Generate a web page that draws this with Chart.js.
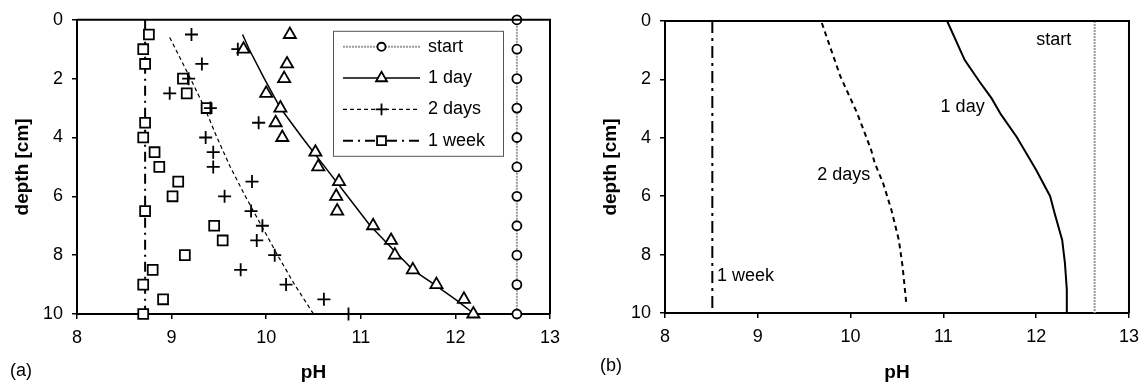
<!DOCTYPE html>
<html>
<head>
<meta charset="utf-8">
<script src="https://cdn.jsdelivr.net/npm/chart.js@4.4.1/dist/chart.umd.min.js"></script>
<style>
  body { margin: 0; background: #fff; }
  .wrap { position: relative; width: 1147px; height: 384px; font-family: 'Liberation Sans', Arial, sans-serif; }
  #chartA { position: absolute; left: 0; top: 0; }
  #chartB { position: absolute; left: 588px; top: 0; }
  .tag { position: absolute; font-size: 18px; color: #000; }
</style>
</head>
<body>
<div class="wrap">
  <canvas id="chartA" width="570" height="384"></canvas>
  <canvas id="chartB" width="559" height="384"></canvas>
  <div class="tag" style="left:10px; top:360px">(a)</div>
  <div class="tag" style="left:600px; top:355px">(b)</div>
</div>
<script>
// (a) measured pH profiles, depth in cm
const sampleDepths = [0.5, 1, 1.5, 2, 2.5, 3, 3.5, 4, 4.5, 5, 5.5, 6, 6.5, 7, 7.5, 8, 8.5, 9, 9.5, 10];
const startDepths = [0, 1, 2, 3, 4, 5, 6, 7, 8, 9, 10];
const startPh = [12.65, 12.65, 12.65, 12.65, 12.65, 12.65, 12.65, 12.65, 12.65, 12.65, 12.65];
const dayPh = [10.25, 9.76, 10.22, 10.19, 10.0, 10.15, 10.1, 10.17, 10.52, 10.55, 10.77, 10.74, 10.75, 11.13, 11.32, 11.36, 11.55, 11.8, 12.09, 12.19];
const twoDaysPh = [9.21, 9.70, 9.32, 9.18, 8.98, 9.41, 9.92, 9.36, 9.44, 9.44, 9.85, 9.56, 9.84, 9.96, 9.90, 10.09, 9.73, 10.21, 10.61, 10.87];
const weekPh = [8.76, 8.70, 8.72, 9.12, 9.16, 9.37, 8.72, 8.70, 8.82, 8.87, 9.07, 9.01, 8.72, 9.45, 9.54, 9.14, 8.80, 8.70, 8.91, 8.70];

// (a) fitted curves
const dayFitDepth = [0.5, 1, 2, 3, 4, 4.5, 5, 6, 7, 7.5, 8, 8.5, 9, 9.5, 10];
const dayFitPh = [9.75, 9.82, 9.98, 10.15, 10.38, 10.5, 10.62, 10.86, 11.1, 11.25, 11.4, 11.55, 11.78, 12.0, 12.2];
const twoDaysFitDepth = [0.6, 2, 3, 4, 5, 6, 7, 8, 9, 10];
const twoDaysFitPh = [8.98, 9.2, 9.35, 9.48, 9.62, 9.78, 9.95, 10.12, 10.3, 10.5];
const weekFitDepth = [0, 10];
const weekFitPh = [8.72, 8.72];

// (b) model profiles
const modelStartDepth = [0, 10];
const modelStartPh = [12.63, 12.63];
const modelDayDepth = [0, 1.34, 2.08, 2.65, 3.2, 3.97, 5.1, 6.0, 6.6, 7.5, 8.3, 9.2, 10];
const modelDayPh = [11.04, 11.23, 11.39, 11.52, 11.62, 11.79, 12.0, 12.15, 12.2, 12.28, 12.31, 12.33, 12.33];
const modelTwoDaysDepth = [0.07, 1.9, 3.15, 4.4, 4.86, 5.55, 6.47, 7.5, 8.4, 9.66];
const modelTwoDaysPh = [9.69, 9.89, 10.07, 10.22, 10.26, 10.35, 10.44, 10.52, 10.56, 10.6];
const modelWeekDepth = [0, 9.9];
const modelWeekPh = [8.51, 8.51];

// (b) curve labels
const curveLabels = ['start', '1 day', '2 days', '1 week'];
const curveLabelPh = [12.0, 10.97, 9.64, 8.56];
const curveLabelDepth = [0.65, 2.95, 5.27, 8.73];

const pts = (xs, ys) => xs.map((x, i) => ({ x: x, y: ys[i] }));

Chart.defaults.font.family = "'Liberation Sans', Arial, Helvetica, sans-serif";
Chart.defaults.font.size = 18;
Chart.defaults.color = '#000';

// top and right edges of the plot box
const frame = {
  id: 'frame',
  afterDraw(chart) {
    const { ctx, chartArea: a } = chart;
    ctx.save();
    ctx.strokeStyle = '#000';
    ctx.lineWidth = 2;
    ctx.beginPath();
    ctx.moveTo(a.left, a.top);
    ctx.lineTo(a.right, a.top);
    ctx.lineTo(a.right, a.bottom);
    ctx.stroke();
    ctx.restore();
  }
};

const boxLegend = {
  id: 'boxLegend',
  afterDatasetsDraw(chart, args, opts) {
    if (!opts.items) return;
    const ctx = chart.ctx, area = chart.chartArea;
    const x0 = area.left + opts.left, y0 = area.top + opts.top;
    ctx.save();
    ctx.fillStyle = '#fff';
    ctx.fillRect(x0, y0, opts.width, opts.height);
    ctx.strokeStyle = '#555';
    ctx.lineWidth = 1;
    ctx.strokeRect(x0 + 0.5, y0 + 0.5, opts.width, opts.height);
    opts.items.forEach((it, i) => {
      const y = y0 + opts.firstRow + i * opts.rowGap;
      const lineDs = chart.data.datasets[it.line];
      const markDs = chart.data.datasets[it.marker];
      ctx.save();
      ctx.strokeStyle = lineDs.borderColor;
      ctx.lineWidth = lineDs.borderWidth;
      ctx.setLineDash(lineDs.borderDash || []);
      ctx.beginPath();
      ctx.moveTo(x0 + 10, y);
      ctx.lineTo(x0 + 10 + opts.sample, y);
      ctx.stroke();
      ctx.restore();
      ctx.save();
      ctx.strokeStyle = markDs.pointBorderColor;
      ctx.fillStyle = markDs.pointBackgroundColor;
      ctx.lineWidth = markDs.pointBorderWidth;
      Chart.helpers.drawPoint(ctx, {
        pointStyle: markDs.pointStyle,
        radius: markDs.pointRadius * 0.9,
        borderWidth: markDs.pointBorderWidth,
        rotation: 0
      }, x0 + 10 + opts.sample / 2, y);
      ctx.restore();
      ctx.fillStyle = '#000';
      ctx.font = "18px 'Liberation Sans', Arial, sans-serif";
      ctx.textBaseline = 'middle';
      ctx.fillText(markDs.label, x0 + opts.textX, y);
    });
    ctx.restore();
  }
};

const curveText = {
  id: 'curveText',
  afterDatasetsDraw(chart, args, opts) {
    if (!opts.labels) return;
    const { ctx, scales } = chart;
    ctx.save();
    ctx.fillStyle = '#000';
    ctx.font = "18px 'Liberation Sans', Arial, sans-serif";
    ctx.textBaseline = 'middle';
    ctx.textAlign = 'left';
    opts.labels.forEach((t, i) => {
      ctx.fillText(t, scales.x.getPixelForValue(opts.ph[i]), scales.y.getPixelForValue(opts.depth[i]));
    });
    ctx.restore();
  }
};

function axes(xHeight) {
  return {
    x: {
      type: 'linear', min: 8, max: 13,
      ticks: { stepSize: 1, padding: 8, color: '#000', font: { size: 18 } },
      grid: { drawOnChartArea: false, tickLength: 5, color: '#000', lineWidth: 1.5 },
      border: { color: '#000', width: 2 },
      title: { display: true, text: 'pH', color: '#000', font: { size: 19, weight: 'bold' }, padding: 0 },
      afterFit: s => { s.height = xHeight; }
    },
    y: {
      type: 'linear', min: 0, max: 10, reverse: true,
      ticks: { stepSize: 2, padding: 9, color: '#000', font: { size: 18 } },
      grid: { drawOnChartArea: false, tickLength: 5, color: '#000', lineWidth: 1.5 },
      border: { color: '#000', width: 2 },
      title: { display: true, text: 'depth [cm]', color: '#000', font: { size: 19, weight: 'bold' }, padding: { top: 11, bottom: 0 } },
      afterFit: s => { s.width = 77; }
    }
  };
}

function markers(label, xs, ys, style, r) {
  return {
    label: label, data: pts(xs, ys), showLine: false, clip: false,
    pointStyle: style, pointRadius: r, pointBorderWidth: 1.8,
    pointBorderColor: '#000', pointBackgroundColor: '#fff',
    borderColor: '#000', backgroundColor: '#fff'
  };
}

function curve(xs, ys, color, width, dash) {
  return {
    label: '', data: pts(xs, ys), showLine: true, clip: false,
    borderColor: color, borderWidth: width, borderDash: dash,
    pointRadius: 0, tension: 0, fill: false
  };
}

const startA = markers('start', startPh, startDepths, 'circle', 4.5);
startA.showLine = true;
startA.borderColor = '#9a9a9a';
startA.borderWidth = 2;
startA.borderDash = [2, 1];

new Chart(document.getElementById('chartA'), {
  type: 'scatter',
  data: {
    datasets: [
      startA,
      markers('1 day', dayPh, sampleDepths, 'triangle', 7),
      markers('2 days', twoDaysPh, sampleDepths, 'cross', 6.5),
      markers('1 week', weekPh, sampleDepths, 'rect', 7),
      curve(dayFitPh, dayFitDepth, '#000', 1.5, []),
      curve(twoDaysFitPh, twoDaysFitDepth, '#000', 1.2, [4, 3]),
      curve(weekFitPh, weekFitDepth, '#000', 2, [10, 5, 2, 5])
    ]
  },
  options: {
    responsive: false,
    animation: false,
    layout: { padding: { top: 17, right: 20, left: 0, bottom: 0 } },
    scales: axes(70),
    plugins: {
      legend: { display: false },
      tooltip: { enabled: false },
      boxLegend: {
        left: 256, top: 11, width: 170, height: 125,
        firstRow: 16, rowGap: 31.3, sample: 77, textX: 95,
        items: [
          { line: 0, marker: 0 },
          { line: 4, marker: 1 },
          { line: 5, marker: 2 },
          { line: 6, marker: 3 }
        ]
      }
    }
  },
  plugins: [frame, boxLegend]
});

new Chart(document.getElementById('chartB'), {
  type: 'scatter',
  data: {
    datasets: [
      curve(modelStartPh, modelStartDepth, '#9a9a9a', 2, [2, 1]),
      curve(modelDayPh, modelDayDepth, '#000', 2, []),
      curve(modelTwoDaysPh, modelTwoDaysDepth, '#000', 2, [5, 4]),
      curve(modelWeekPh, modelWeekDepth, '#000', 2, [12, 5, 3, 5])
    ]
  },
  options: {
    responsive: false,
    animation: false,
    layout: { padding: { top: 21, right: 10, left: 0, bottom: 0 } },
    scales: axes(71),
    plugins: {
      legend: { display: false },
      tooltip: { enabled: false },
      curveText: { labels: curveLabels, ph: curveLabelPh, depth: curveLabelDepth }
    }
  },
  plugins: [frame, curveText]
});
</script>
</body>
</html>
